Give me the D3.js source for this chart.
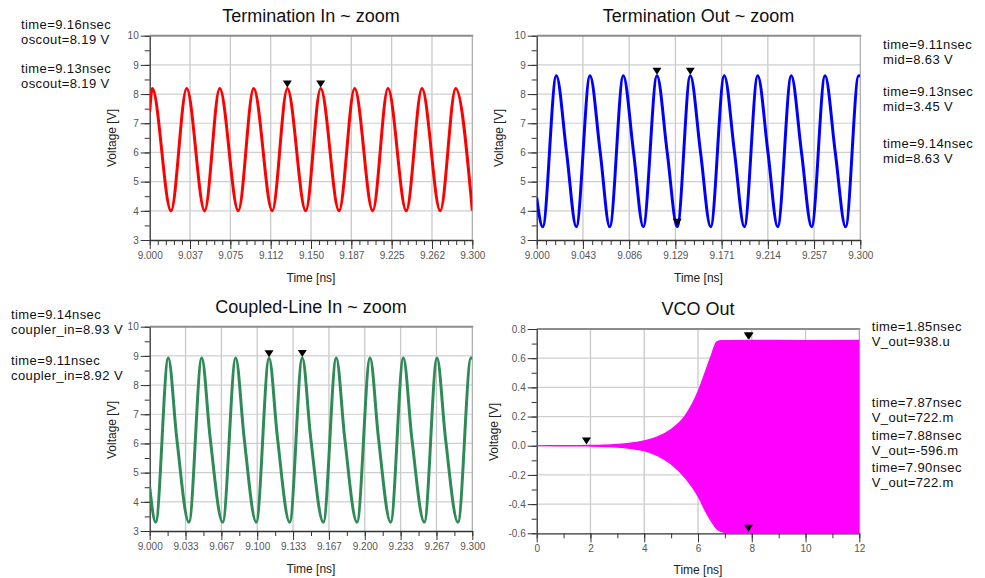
<!DOCTYPE html>
<html>
<head>
<meta charset="utf-8">
<script src="https://cdn.jsdelivr.net/npm/d3@7"></script>
<style>
  body { margin: 0; background: #fff; }
  svg { display: block; font-family: "Liberation Sans", Arial, sans-serif; }
</style>
</head>
<body>
<svg id="chart" width="985" height="578"></svg>
<script>
// ---------- Termination In (oscout) : extrema of the waveform ----------
const inTime = [9.0000, 9.0024, 9.0198, 9.0344, 9.0511, 9.0651, 9.0824, 9.0967, 9.1140, 9.1280,
                9.1451, 9.1590, 9.1761, 9.1906, 9.2074, 9.2216, 9.2386, 9.2532, 9.2702, 9.2846, 9.3000];
const inVolt = [7.40, 8.19, 4.00, 8.19, 4.00, 8.19, 4.00, 8.19, 4.00, 8.19,
                4.00, 8.19, 4.00, 8.19, 4.00, 8.19, 4.00, 8.19, 4.00, 8.19, 4.01];
const inMarkTime = [9.159, 9.128];
const inMarkVolt = [8.19, 8.19];

// ---------- Termination Out (mid) ----------
const outTime = [9.0000, 9.0056, 9.0182, 9.0277, 9.0367, 9.0494, 9.0589, 9.0677, 9.0803, 9.0898,
                 9.0988, 9.1115, 9.1210, 9.1303, 9.1424, 9.1519, 9.1613, 9.1739, 9.1834, 9.1925,
                 9.2049, 9.2144, 9.2234, 9.2360, 9.2455, 9.2549, 9.2673, 9.2768, 9.2864, 9.2985, 9.3000];
const outVolt = [4.45, 3.45, 8.63, 6.00, 3.45, 8.63, 6.00, 3.45, 8.63, 6.00,
                 3.45, 8.63, 6.00, 3.45, 8.63, 6.00, 3.45, 8.63, 6.00, 3.45,
                 8.63, 6.00, 3.45, 8.63, 6.00, 3.45, 8.63, 6.00, 3.45, 8.63, 8.62];
const outMarkTime = [9.1115, 9.1303, 9.1424];
const outMarkVolt = [8.63, 3.45, 8.63];

// ---------- Coupled-Line In (coupler_in) ----------
const cplTime = [9.0000, 9.0056, 9.0173, 9.0251, 9.0365, 9.0484, 9.0562, 9.0679, 9.0800, 9.0878,
                 9.0991, 9.1110, 9.1188, 9.1302, 9.1419, 9.1497, 9.1615, 9.1735, 9.1813, 9.1928,
                 9.2049, 9.2127, 9.2241, 9.2359, 9.2437, 9.2554, 9.2672, 9.2750, 9.2867, 9.2988, 9.3000];
const cplVolt = [4.50, 3.30, 8.93, 6.20, 3.30, 8.93, 6.20, 3.30, 8.93, 6.20,
                 3.30, 8.92, 6.20, 3.30, 8.93, 6.20, 3.30, 8.93, 6.20, 3.30,
                 8.93, 6.20, 3.30, 8.93, 6.20, 3.30, 8.93, 6.20, 3.30, 8.93, 8.92];
const cplMarkTime = [9.1419, 9.1110];
const cplMarkVolt = [8.93, 8.92];

// ---------- VCO Out : envelope of the fast oscillation ----------
const vcoTime  = [0, 1, 2, 2.5, 3, 3.5, 4, 4.5, 5, 5.5, 6, 6.3, 6.5, 6.7, 6.9, 7.1, 8, 10, 12];
const vcoUpper = [0.000, 0.001, 0.002, 0.004, 0.009, 0.018, 0.034, 0.062, 0.112, 0.200, 0.370,
                  0.520, 0.622, 0.713, 0.720, 0.721, 0.722, 0.721, 0.722];
const vcoLower = [0.000, -0.001, -0.002, -0.005, -0.009, -0.019, -0.034, -0.068, -0.125, -0.215, -0.345,
                  -0.455, -0.518, -0.569, -0.591, -0.596, -0.596, -0.596, -0.596];
const vcoMarkTime = [1.85, 7.87, 7.88, 7.90];
const vcoMarkVolt = [0.000938, 0.722, -0.596, 0.722];

// ---------- axis tick labels ----------
const voltTicks = [3, 4, 5, 6, 7, 8, 9, 10];
const inTickLabels  = ["9.000", "9.037", "9.075", "9.112", "9.150", "9.187", "9.225", "9.262", "9.300"];
const outTickLabels = ["9.000", "9.043", "9.086", "9.129", "9.171", "9.214", "9.257", "9.300"];
const cplTickLabels = ["9.000", "9.033", "9.067", "9.100", "9.133", "9.167", "9.200", "9.233", "9.267", "9.300"];
const vcoTimeTicks  = [0, 2, 4, 6, 8, 10, 12];
const vcoVoltTicks  = [-0.6, -0.4, -0.2, 0.0, 0.2, 0.4, 0.6, 0.8];
const vcoVoltLabels = ["-0.6", "-0.4", "-0.2", "0.0", "0.2", "0.4", "0.6", "0.8"];

const svg = d3.select("#chart");

// evenly spaced tick positions across a domain
function spread(domain, n) {
  return d3.range(n + 1).map(i => domain[0] + (domain[1] - domain[0]) * i / n);
}

let clipId = 0;
function panel(cfg) {
  const g = svg.append("g");
  const x = d3.scaleLinear().domain(cfg.xDomain).range([cfg.left, cfg.right]);
  const y = d3.scaleLinear().domain(cfg.yDomain).range([cfg.bottom, cfg.top]);

  // grid
  g.append("g").selectAll("line").data(cfg.xTicks.slice(1, -1)).join("line")
    .attr("x1", d => x(d)).attr("x2", d => x(d))
    .attr("y1", cfg.top).attr("y2", cfg.bottom)
    .attr("stroke", "#c9c9c9").attr("stroke-width", 1.3);
  g.append("g").selectAll("line").data(cfg.yTicks.slice(1, -1)).join("line")
    .attr("x1", cfg.left).attr("x2", cfg.right)
    .attr("y1", d => y(d)).attr("y2", d => y(d))
    .attr("stroke", "#cfcfcf").attr("stroke-width", 1.2);

  // frame: top and right edges
  g.append("line").attr("x1", cfg.left).attr("x2", cfg.right + 1)
    .attr("y1", cfg.top).attr("y2", cfg.top)
    .attr("stroke", "#8c8c8c").attr("stroke-width", 2);
  g.append("line").attr("x1", cfg.right).attr("x2", cfg.right)
    .attr("y1", cfg.top).attr("y2", cfg.bottom)
    .attr("stroke", "#a8a8a8").attr("stroke-width", 1.2);

  // minor ticks
  const xMinor = spread(cfg.xDomain, (cfg.xTicks.length - 1) * cfg.xSub);
  const yMinor = spread(cfg.yDomain, (cfg.yTicks.length - 1) * cfg.ySub);
  g.append("g").attr("transform", `translate(0,${cfg.bottom})`)
    .call(d3.axisBottom(x).tickValues(xMinor).tickSize(5).tickSizeOuter(0).tickFormat(""))
    .call(a => a.select(".domain").remove())
    .call(a => a.selectAll("line").attr("stroke", "#333"));
  g.append("g").attr("transform", `translate(${cfg.left},0)`)
    .call(d3.axisLeft(y).tickValues(yMinor).tickSize(5).tickSizeOuter(0).tickFormat(""))
    .call(a => a.select(".domain").remove())
    .call(a => a.selectAll("line").attr("stroke", "#333"));

  // major axes
  const xa = g.append("g").attr("transform", `translate(0,${cfg.bottom})`)
    .call(d3.axisBottom(x).tickValues(cfg.xTicks).tickSize(9).tickSizeOuter(0).tickPadding(3)
      .tickFormat((d, i) => cfg.xLabels[i]));
  const ya = g.append("g").attr("transform", `translate(${cfg.left},0)`)
    .call(d3.axisLeft(y).tickValues(cfg.yTicks).tickSize(9).tickSizeOuter(0).tickPadding(2)
      .tickFormat((d, i) => cfg.yLabels[i]));
  [xa, ya].forEach(a => {
    a.select(".domain").attr("stroke", "#333").attr("stroke-width", 1.3);
    a.selectAll(".tick line").attr("stroke", "#333");
    a.selectAll("text").attr("fill", "#555").style("font-size", "10px")
      .style("font-family", '"Liberation Sans", Arial, sans-serif');
  });

  // clip
  const id = "plotclip" + (clipId++);
  svg.append("clipPath").attr("id", id).append("rect")
    .attr("x", cfg.left).attr("y", cfg.top - 2)
    .attr("width", cfg.right - cfg.left).attr("height", cfg.bottom - cfg.top + 2);
  const plot = g.append("g").attr("clip-path", `url(#${id})`);

  cfg.draw(plot, x, y);

  // markers
  g.append("g").selectAll("path").data(cfg.markTime.map((t, i) => [t, cfg.markVolt[i]])).join("path")
    .attr("d", "M-4.5,-8L4.5,-8L0,-1Z")
    .attr("transform", d => `translate(${x(d[0])},${y(d[1])})`)
    .attr("fill", "#000");

  // titles and axis labels
  g.append("text").attr("x", (cfg.left + cfg.right) / 2).attr("y", cfg.titleY)
    .attr("text-anchor", "middle").style("font-size", "18px").attr("fill", "#111")
    .text(cfg.title);
  g.append("text").attr("x", (cfg.left + cfg.right) / 2).attr("y", cfg.xLabelY)
    .attr("text-anchor", "middle").style("font-size", "12px").attr("fill", "#222")
    .text("Time [ns]");
  g.append("text").attr("transform", `translate(${cfg.yLabelX},${cfg.yLabelY}) rotate(-90)`)
    .attr("text-anchor", "middle").style("font-size", "12px").attr("fill", "#222")
    .text("Voltage [V]");

  // marker readouts: two stacked lines per marker
  cfg.markTime.forEach((t, i) => {
    const note = g.append("text").attr("x", cfg.noteX).attr("y", cfg.noteY[i] - 0.5)
      .style("font-size", "13px").style("letter-spacing", "0.4px").attr("fill", "#111");
    note.append("tspan").attr("x", cfg.noteX).text("time=" + t.toFixed(2) + "nsec");
    note.append("tspan").attr("x", cfg.noteX).attr("dy", 15)
      .text(cfg.name + "=" + cfg.fmt(cfg.markVolt[i]));
  });
}

function trace(color, times, volts) {
  return (plot, x, y) => {
    plot.append("path")
      .datum(times.map((t, i) => [t, volts[i]]))
      .attr("fill", "none").attr("stroke", color).attr("stroke-width", 3)
      .attr("stroke-linejoin", "round")
      .attr("d", d3.line().x(d => x(d[0])).y(d => y(d[1])).curve(d3.curveMonotoneX));
  };
}

const volts2 = v => v.toFixed(2) + " V";
const voltLabels = voltTicks.map(String);

panel({
  title: "Termination In ~ zoom", name: "oscout", fmt: volts2,
  left: 149.7, right: 472.3, top: 35.7, bottom: 240,
  xDomain: [9.0, 9.3], xTicks: spread([9.0, 9.3], 8), xLabels: inTickLabels, xSub: 5,
  yDomain: [3, 10], yTicks: voltTicks, yLabels: voltLabels, ySub: 2,
  titleY: 22, xLabelY: 281.5, yLabelX: 115.5, yLabelY: 138,
  noteX: 21, noteY: [29.5, 73],
  markTime: inMarkTime, markVolt: inMarkVolt,
  draw: trace("#ff0000", inTime, inVolt)
});

panel({
  title: "Termination Out ~ zoom", name: "mid", fmt: volts2,
  left: 536.7, right: 860.3, top: 35.7, bottom: 240,
  xDomain: [9.0, 9.3], xTicks: spread([9.0, 9.3], 7), xLabels: outTickLabels, xSub: 5,
  yDomain: [3, 10], yTicks: voltTicks, yLabels: voltLabels, ySub: 2,
  titleY: 22, xLabelY: 281.5, yLabelX: 502.5, yLabelY: 138,
  noteX: 883, noteY: [49, 96, 148.7],
  markTime: outMarkTime, markVolt: outMarkVolt,
  draw: trace("#0000ff", outTime, outVolt)
});

panel({
  title: "Coupled-Line In ~ zoom", name: "coupler_in", fmt: volts2,
  left: 149.7, right: 472.3, top: 326.7, bottom: 531,
  xDomain: [9.0, 9.3], xTicks: spread([9.0, 9.3], 9), xLabels: cplTickLabels, xSub: 2,
  yDomain: [3, 10], yTicks: voltTicks, yLabels: voltLabels, ySub: 2,
  titleY: 313, xLabelY: 572.5, yLabelX: 115.5, yLabelY: 430,
  noteX: 11, noteY: [319.3, 365],
  markTime: cplMarkTime, markVolt: cplMarkVolt,
  draw: trace("#2e8b57", cplTime, cplVolt)
});

// engineering readout used by the VCO markers
function eng(v) {
  return Math.abs(v) < 1e-3 ? (v * 1e6).toFixed(0) + ".u" : (v * 1e3).toFixed(0) + ".m";
}

panel({
  title: "VCO Out", name: "V_out", fmt: eng,
  left: 536.7, right: 859.3, top: 329, bottom: 533.3,
  xDomain: [0, 12], xTicks: vcoTimeTicks, xLabels: vcoTimeTicks.map(String), xSub: 2,
  yDomain: [-0.6, 0.8], yTicks: vcoVoltTicks, yLabels: vcoVoltLabels, ySub: 2,
  titleY: 315, xLabelY: 573.5, yLabelX: 498, yLabelY: 432,
  noteX: 871.7, noteY: [331.7, 407.7, 440, 472.7],
  markTime: vcoMarkTime, markVolt: vcoMarkVolt,
  draw: (plot, x, y) => {
    plot.append("path")
      .datum(vcoTime.map((t, i) => [t, vcoUpper[i], vcoLower[i]]))
      .attr("fill", "#ff00ff").attr("stroke", "#ff00ff").attr("stroke-width", 1.2)
      .attr("d", d3.area().x(d => x(d[0])).y0(d => y(d[2])).y1(d => y(d[1])).curve(d3.curveMonotoneX));
  }
});
</script>
</body>
</html>
